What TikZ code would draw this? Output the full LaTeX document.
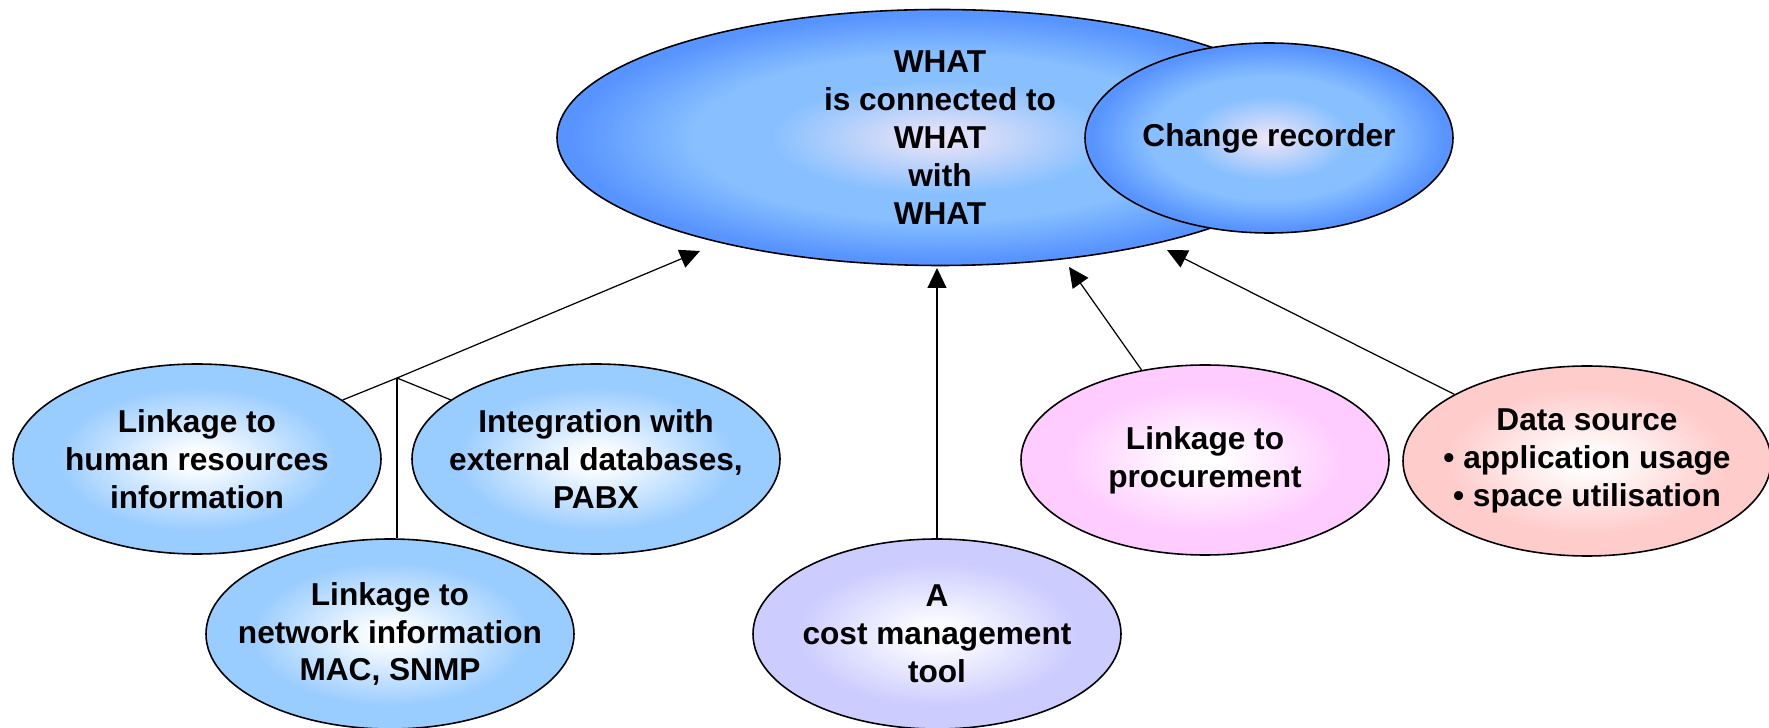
\documentclass[tikz,border=0pt]{standalone}
\usepackage{fontspec}
\setmainfont{Liberation Sans}
\usetikzlibrary{shapes.geometric, arrows.meta}

\definecolor{skyb}{RGB}{153,204,255}
\definecolor{lilac}{RGB}{204,204,255}
\definecolor{pinkb}{RGB}{255,204,255}
\definecolor{salmon}{RGB}{255,204,204}
\definecolor{deepb}{RGB}{88,148,255}
\definecolor{midb}{RGB}{136,192,255}
\definecolor{paleb}{RGB}{240,230,246}

% radial glows for the bubbles (25bp = rim)
\pgfdeclareradialshading{mainglow}{\pgfpoint{0bp}{0bp}}{color(0bp)=(paleb); color(11bp)=(midb); color(16bp)=(midb); color(24bp)=(deepb); color(50bp)=(deepb)}
\pgfdeclareradialshading{skyglow}{\pgfpoint{0bp}{0bp}}{color(0bp)=(white); color(2bp)=(white); color(19bp)=(skyb); color(50bp)=(skyb)}
\pgfdeclareradialshading{lilacglow}{\pgfpoint{0bp}{0bp}}{color(0bp)=(white); color(2bp)=(white); color(19bp)=(lilac); color(50bp)=(lilac)}
\pgfdeclareradialshading{pinkglow}{\pgfpoint{0bp}{0bp}}{color(0bp)=(white); color(2bp)=(white); color(19bp)=(pinkb); color(50bp)=(pinkb)}
\pgfdeclareradialshading{salmonglow}{\pgfpoint{0bp}{0bp}}{color(0bp)=(white); color(2bp)=(white); color(19bp)=(salmon); color(50bp)=(salmon)}

\begin{document}
\begin{tikzpicture}[
        bubble/.style={ellipse, draw, line width=0.9pt, inner sep=-1cm,
            minimum width=7.36cm, minimum height=3.8cm, align=center,
            font=\bfseries\fontsize{18}{21.6}\selectfont},
        wire/.style={line width=0.7pt},
        conn/.style={wire, -{Triangle[length=0.4cm, width=0.38cm]}}]
    \useasboundingbox (0,0) rectangle (35.38,-14.56);

    % Central bubble and its recorder
    \node[bubble, shading=mainglow, minimum width=15.32cm, minimum height=5.12cm] (what) at (18.8,-2.75)
        {WHAT\\is connected to\\WHAT\\with\\WHAT};
    \node[bubble, shading=mainglow] (recorder) at (25.38,-2.76) {Change recorder};

    % Feeding bubbles
    \node[bubble, shading=skyglow] (hr) at (3.94,-9.18) {Linkage to\\human resources\\information};
    \node[bubble, shading=skyglow] (extdb) at (11.92,-9.18) {Integration with\\external databases,\\PABX};
    \node[bubble, shading=skyglow] (net) at (7.80,-12.68) {Linkage to\\network information\\MAC, SNMP};
    \node[bubble, shading=lilacglow] (cost) at (18.74,-12.68) {A\\cost management\\tool};
    \node[bubble, shading=pinkglow] (proc) at (24.1,-9.2) {Linkage to\\procurement};
    \node[bubble, shading=salmonglow] (source) at (31.74,-9.22)
        {Data source\\\textbullet{} application usage\\\textbullet{} space utilisation};

    % Junction and arrow tips
    \coordinate (junc) at (7.94,-7.56);
    \coordinate (tipHR) at (14.0,-5.02);
    \coordinate (tipCost) at (18.74,-5.36);
    \coordinate (tipProc) at (21.38,-5.34);
    \coordinate (tipSrc) at (23.34,-5.0);

    % Connectors
    \draw[conn] (hr) -- (junc) -- (tipHR);
    \draw[wire] (extdb) -- (junc);
    \draw[wire] (junc) -- (junc |- net.north);
    \draw[conn] (cost) -- (tipCost);
    \draw[conn] (proc) -- (tipProc);
    \draw[conn] (source) -- (tipSrc);
\end{tikzpicture}
\end{document}
